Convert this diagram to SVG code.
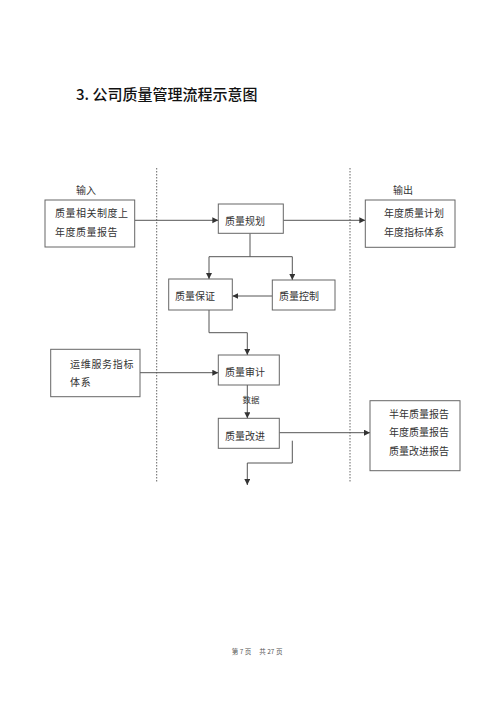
<svg xmlns="http://www.w3.org/2000/svg" width="500" height="706" viewBox="0 0 500 706">
<style>
.box{fill:#fff;stroke:#666;stroke-width:1}
.t{font-family:"Noto Sans CJK SC","Liberation Sans",sans-serif;font-size:10px;fill:#333}
.ln{fill:none;stroke:#555;stroke-width:1}
.dot{fill:none;stroke:#666;stroke-width:1;stroke-dasharray:1.5 1.5}
.ft{font-family:"Noto Sans CJK SC","Liberation Sans",sans-serif;font-size:6.5px;fill:#555}
</style>
<defs>
<marker id="ar" markerUnits="userSpaceOnUse" markerWidth="7" markerHeight="7" refX="6" refY="3" orient="auto">
<path d="M0,0 L6,3 L0,6 Z" fill="#333"/>
</marker>
</defs>
<rect width="500" height="706" fill="#fff"/>
<text x="76" y="100" font-family="Noto Sans CJK SC,Liberation Sans,sans-serif" font-size="15" font-weight="500" fill="#111">3. 公司质量管理流程示意图</text>
<line class="dot" x1="156.7" y1="168" x2="156.7" y2="483"/>
<line class="dot" x1="350" y1="168" x2="350" y2="483"/>
<text class="t" x="76" y="193.5">输入</text>
<text class="t" x="393" y="193.5">输出</text>
<g id="connectors">
<path class="ln" d="M134.7,220.3 H218.3" marker-end="url(#ar)"/>
<path class="ln" d="M283.3,220.3 H365.3" marker-end="url(#ar)"/>
<path class="ln" d="M250,233.3 V256.7 M209,256.7 H292.3"/>
<path class="ln" d="M209,256.7 V279" marker-end="url(#ar)"/>
<path class="ln" d="M292.3,256.7 V280" marker-end="url(#ar)"/>
<path class="ln" d="M272.3,296 H232.3" marker-end="url(#ar)"/>
<path class="ln" d="M209,310 V332.7 H247.3 V355" marker-end="url(#ar)"/>
<path class="ln" d="M140,372.7 H218.3" marker-end="url(#ar)"/>
<path class="ln" d="M247.3,385 V418.3" marker-end="url(#ar)"/>
<text class="t" x="242.5" y="403" style="font-size:8.5px">数据</text>
<path class="ln" d="M279.3,432.7 H370" marker-end="url(#ar)"/>
<path class="ln" d="M292.3,440.7 V463 H247.3 V485" marker-end="url(#ar)"/>
</g>
<g id="input1">
<rect class="box" x="45" y="200" width="89.7" height="47"/>
<text class="t" x="55" y="216.5" letter-spacing="0.5">质量相关制度上</text>
<text class="t" x="55" y="236" letter-spacing="0.5">年度质量报告</text>
</g>
<g id="plan">
<rect class="box" x="218.3" y="204" width="65" height="29.3"/>
<text class="t" x="225" y="225">质量规划</text>
</g>
<g id="output1">
<rect class="box" x="365.3" y="200" width="89.7" height="47.3"/>
<text class="t" x="384" y="217">年度质量计划</text>
<text class="t" x="384" y="236">年度指标体系</text>
</g>
<g id="assurance">
<rect class="box" x="168.7" y="279" width="63.6" height="31"/>
<text class="t" x="175" y="300">质量保证</text>
</g>
<g id="control">
<rect class="box" x="272.3" y="280" width="62.7" height="30"/>
<text class="t" x="279" y="300">质量控制</text>
</g>
<g id="input2">
<rect class="box" x="50.7" y="349.3" width="89.3" height="47.4"/>
<text class="t" x="70" y="367.5" letter-spacing="0.7">运维服务指标</text>
<text class="t" x="70" y="386" letter-spacing="0.7">体系</text>
</g>
<g id="audit">
<rect class="box" x="218.3" y="355" width="61" height="30"/>
<text class="t" x="225" y="376">质量审计</text>
</g>
<g id="improve">
<rect class="box" x="218.3" y="418.3" width="61" height="30"/>
<text class="t" x="225" y="439.5">质量改进</text>
</g>
<g id="output2">
<rect class="box" x="370" y="400.7" width="90" height="70"/>
<text class="t" x="389" y="417.5">半年质量报告</text>
<text class="t" x="389" y="436">年度质量报告</text>
<text class="t" x="389" y="455">质量改进报告</text>
</g>
<text class="ft" x="231.7" y="654">第 7 页</text>
<text class="ft" x="259.3" y="654">共 27 页</text>
</svg>
